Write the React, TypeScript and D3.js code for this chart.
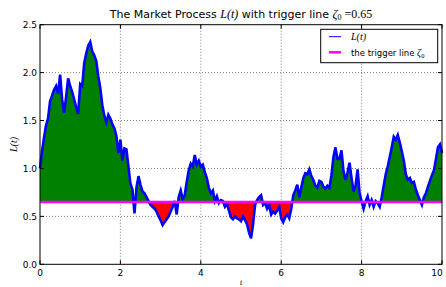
import * as React from 'react';
import * as d3 from 'd3';

// sampled every T_STEP from t = 0 to t = 10
const T_STEP = 0.05;
const L_VALUES = [
  1.00, 1.18, 1.32, 1.45, 1.52, 1.70, 1.76, 1.82, 1.86, 1.78,
  1.98, 1.72, 1.58, 1.75, 1.94, 1.86, 1.80, 1.72, 1.64, 1.57,
  1.88, 1.86, 2.10, 2.20, 2.28, 2.32, 2.22, 2.18, 2.12, 1.96,
  1.84, 1.66, 1.55, 1.48, 1.56, 1.52, 1.46, 1.42, 1.34, 1.16,
  1.30, 1.08, 1.21, 1.20, 1.02, 0.84, 0.78, 0.53, 0.80, 0.92,
  0.83, 0.76, 0.74, 0.70, 0.66, 0.62, 0.60, 0.58, 0.55, 0.50,
  0.46, 0.41, 0.44, 0.47, 0.50, 0.55, 0.60, 0.66, 0.52, 0.70,
  0.77, 0.68, 0.72, 0.86, 0.98, 1.05, 1.02, 1.14, 1.04, 1.08,
  1.02, 1.04, 0.96, 0.90, 0.80, 0.74, 0.77, 0.66, 0.71, 0.64,
  0.67, 0.66, 0.60, 0.63, 0.56, 0.49, 0.47, 0.50, 0.48, 0.47,
  0.45, 0.50, 0.46, 0.42, 0.33, 0.27, 0.42, 0.62, 0.67, 0.70,
  0.72, 0.62, 0.64, 0.58, 0.62, 0.52, 0.55, 0.53, 0.56, 0.60,
  0.48, 0.44, 0.49, 0.52, 0.48, 0.58, 0.72, 0.77, 0.83, 0.70,
  0.80, 0.90, 0.95, 0.94, 0.99, 0.92, 0.88, 0.82, 0.80, 0.87,
  0.86, 0.81, 0.79, 0.82, 0.80, 0.93, 1.12, 1.22, 1.10, 1.10,
  1.19, 0.97, 0.88, 0.96, 1.06, 0.90, 0.76, 0.82, 0.99, 0.74,
  0.66, 0.58, 0.66, 0.71, 0.62, 0.67, 0.60, 0.66, 0.64, 0.60,
  0.70, 0.82, 0.94, 1.02, 1.12, 1.22, 1.33, 1.30, 1.35, 1.27,
  1.18, 1.08, 0.94, 0.88, 0.90, 0.85, 0.86, 0.78, 0.72, 0.67,
  0.62, 0.70, 0.74, 0.81, 0.87, 0.93, 0.98, 1.10, 1.22, 1.25,
  1.16,
];
const TRIGGER = 0.65;
const X_TICKS = [0, 2, 4, 6, 8, 10];
const Y_TICKS = [0, 0.5, 1, 1.5, 2, 2.5];

const SANS = '"DejaVu Sans", sans-serif';
const SERIF = '"Liberation Serif", serif';

export default function App() {
  const left = 40, right = 442, top = 24.7, bottom = 264.3;
  const x = d3.scaleLinear().domain([0, 10]).range([left, right]);
  const y = d3.scaleLinear().domain([0, 2.5]).range([bottom, top]);

  const pts = L_VALUES.map((v, i) => ({ t: i * T_STEP, v }));

  const line = d3.line<{ t: number; v: number }>()
    .x(d => x(d.t))
    .y(d => y(d.v));
  const above = d3.area<{ t: number; v: number }>()
    .x(d => x(d.t))
    .y0(y(TRIGGER))
    .y1(d => y(Math.max(d.v, TRIGGER)));
  const below = d3.area<{ t: number; v: number }>()
    .x(d => x(d.t))
    .y0(y(TRIGGER))
    .y1(d => y(Math.min(d.v, TRIGGER)));

  const tickLen = 4;
  const lx = 320.7, ly = 29.3, lw = 117, lh = 33.4;

  return (
    <svg width={446} height={287} style={{ position: 'absolute', left: 0, top: 0, background: '#fff' }}>
      <rect x={0} y={0} width={446} height={287} fill="#fff" />

      {/* grid */}
      <g stroke="#000" strokeWidth={0.7} strokeDasharray="1,2" opacity={0.7}>
        {X_TICKS.slice(1, -1).map(t => (
          <line key={'gx' + t} x1={x(t)} x2={x(t)} y1={top} y2={bottom} />
        ))}
        {Y_TICKS.slice(1, -1).map(v => (
          <line key={'gy' + v} x1={left} x2={right} y1={y(v)} y2={y(v)} />
        ))}
      </g>

      <path d={above(pts) || ''} fill="#008000" />
      <path d={below(pts) || ''} fill="#ff0000" />
      <path d={line(pts) || ''} fill="none" stroke="#0000ff" strokeWidth={2.6} strokeLinejoin="miter" />
      <line x1={left} x2={right} y1={y(TRIGGER)} y2={y(TRIGGER)} stroke="#ff00ff" strokeWidth={2.5} />

      {/* frame */}
      <rect x={left} y={top} width={right - left} height={bottom - top} fill="none" stroke="#000" strokeWidth={1} />

      {/* ticks */}
      <g stroke="#000" strokeWidth={1}>
        {X_TICKS.map(t => (
          <g key={'tx' + t}>
            <line x1={x(t)} x2={x(t)} y1={bottom} y2={bottom - tickLen} />
            <line x1={x(t)} x2={x(t)} y1={top} y2={top + tickLen} />
          </g>
        ))}
        {Y_TICKS.map(v => (
          <g key={'ty' + v}>
            <line x1={left} x2={left + tickLen} y1={y(v)} y2={y(v)} />
            <line x1={right} x2={right - tickLen} y1={y(v)} y2={y(v)} />
          </g>
        ))}
      </g>
      <g fontFamily={SANS} fontSize={9} fill="#000">
        {X_TICKS.map(t => (
          <text key={'lx' + t} x={Math.min(x(t), 437)} y={bottom + 12} textAnchor="middle">{t}</text>
        ))}
        {Y_TICKS.map(v => (
          <text key={'ly' + v} x={left - 3} y={y(v) + 3.3} textAnchor="end">{v.toFixed(1)}</text>
        ))}
      </g>

      {/* axis labels */}
      <text x={(left + right) / 2} y={285} textAnchor="middle" fontFamily={SERIF} fontStyle="italic" fontSize={8}>t</text>
      <text transform={`translate(17, ${(top + bottom) / 2}) rotate(-90)`} textAnchor="middle"
        fontFamily={SERIF} fontStyle="italic" fontSize={10}>L(t)</text>

      {/* title */}
      <text x={(left + right) / 2} y={18} textAnchor="middle" fontFamily={SANS} fontSize={11}>
        The Market Process <tspan fontFamily={SERIF} fontStyle="italic" fontSize={12}>L(t)</tspan> with trigger line{' '}
        <tspan fontFamily={SERIF} fontStyle="italic" fontSize={12}>ζ</tspan>
        <tspan fontFamily={SERIF} fontSize={8} dy={2}>0</tspan>
        <tspan fontFamily={SERIF} fontSize={12} dy={-2}> =0.65</tspan>
      </text>

      {/* legend */}
      <rect x={lx} y={ly} width={lw} height={lh} fill="#fff" stroke="#000" strokeWidth={1} />
      <line x1={329} x2={341} y1={36.7} y2={36.7} stroke="#0000ff" strokeWidth={1} />
      <line x1={329} x2={341} y1={52.3} y2={52.3} stroke="#ff00ff" strokeWidth={2.5} />
      <text x={351} y={40} fontFamily={SERIF} fontStyle="italic" fontSize={10}>L(t)</text>
      <text x={351} y={55.5} fontFamily={SANS} fontSize={8.5}>
        the trigger line <tspan fontFamily={SERIF} fontStyle="italic" fontSize={10}>ζ</tspan>
        <tspan fontFamily={SERIF} fontSize={6.5} dy={2}>0</tspan>
      </text>
    </svg>
  );
}
